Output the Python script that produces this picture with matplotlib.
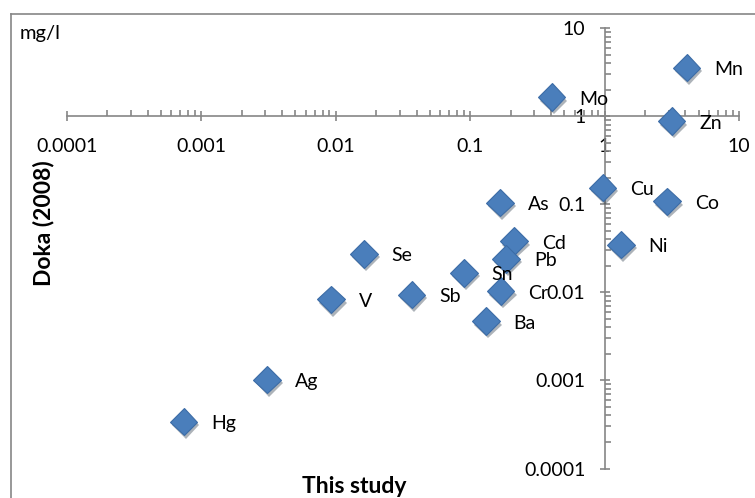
import matplotlib
matplotlib.use("Agg")
import matplotlib.pyplot as plt
import matplotlib.patheffects as pe
from matplotlib.ticker import LogLocator, FixedLocator, NullFormatter

# data (mg/l)
elements = ['Hg', 'Ag', 'V', 'Se', 'Sb', 'Sn', 'Cr', 'Ba', 'Cd', 'Pb', 'As',
            'Mo', 'Cu', 'Ni', 'Co', 'Zn', 'Mn']
this_study = [0.00074, 0.0031, 0.0092, 0.0162, 0.0367, 0.090, 0.169, 0.131,
              0.212, 0.185, 0.167, 0.404, 0.966, 1.32, 2.92, 3.15, 4.07]
doka_2008 = [0.00034, 0.00102, 0.0083, 0.0273, 0.0094, 0.0166, 0.0103, 0.0047,
             0.038, 0.024, 0.104, 1.64, 0.154, 0.0348, 0.108, 0.877, 3.55]
tick_vals = [0.0001, 0.001, 0.01, 0.1, 1, 10]
tick_labels = ['0.0001', '0.001', '0.01', '0.1', '1', '10']

plt.rcParams['font.family'] = ['Lato', 'DejaVu Sans']
grey = '#868686'

W, H = 755, 498
fig = plt.figure(figsize=(W / 100, H / 100), dpi=100)

# chart border (cropped at right and bottom)
fig.add_artist(plt.Line2D([11 / W, 1], [1 - 14 / H, 1 - 14 / H], color=grey, lw=1.2,
                          transform=fig.transFigure))
fig.add_artist(plt.Line2D([11 / W, 11 / W], [0, 1 - 14 / H], color=grey, lw=1.2,
                          transform=fig.transFigure))

ax = fig.add_axes([66.7 / W, 1 - 468.5 / H, (739 - 66.7) / W, (468.5 - 28) / H])
ax.set_xscale('log')
ax.set_yscale('log')
ax.set_xlim(0.0001, 10)
ax.set_ylim(0.0001, 10)

# axes cross at (1, 1)
ax.spines['left'].set_position(('data', 1))
ax.spines['bottom'].set_position(('data', 1))
ax.spines['top'].set_visible(False)
ax.spines['right'].set_visible(False)
for s in ['left', 'bottom']:
    ax.spines[s].set_color(grey)
    ax.spines[s].set_linewidth(1.2)

ax.xaxis.set_major_locator(FixedLocator(tick_vals))
ax.yaxis.set_major_locator(FixedLocator(tick_vals))
ax.set_xticklabels(tick_labels)
ax.set_yticklabels(tick_labels)
ax.xaxis.set_minor_locator(LogLocator(base=10, subs=range(2, 10), numticks=20))
ax.yaxis.set_minor_locator(LogLocator(base=10, subs=range(2, 10), numticks=20))
ax.xaxis.set_minor_formatter(NullFormatter())
ax.yaxis.set_minor_formatter(NullFormatter())

ax.tick_params(which='major', direction='inout', length=7.5, width=1.2, color=grey,
               labelsize=14, labelcolor='black')
ax.tick_params(which='minor', direction='in', length=4.5, width=1.2, color=grey)
ax.tick_params(axis='x', which='major', pad=12)
ax.tick_params(axis='y', which='major', pad=10)
ax.patch.set_alpha(0)

ax.plot(this_study, doka_2008, 'D', ms=14, color='#4A7EBB', mec='#3C6CA6', mew=0.8,
        path_effects=[pe.SimplePatchShadow(offset=(1.5, -2.5), alpha=0.35), pe.Normal()],
        zorder=3)

for name, xv, yv in zip(elements, this_study, doka_2008):
    ax.annotate(name, (xv, yv), xytext=(20, -1.5), textcoords='offset points',
                ha='left', va='center', fontsize=14, zorder=4)

fig.text(20 / W, 1 - 34 / H, 'mg/l', fontsize=14.5, ha='left', va='center')
fig.text(44 / W, 1 - 223 / H, 'Doka (2008)', fontsize=16.5, fontweight='bold',
         rotation=90, ha='center', va='center')
fig.text(354 / W, 1 - 486 / H, 'This study', fontsize=16.5, fontweight='bold',
         ha='center', va='center')

fig.savefig('out.png', dpi=100)
